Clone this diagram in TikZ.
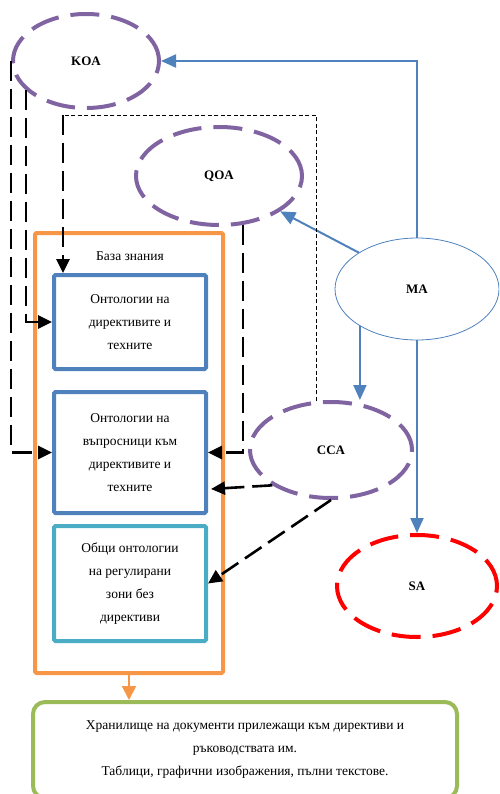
\documentclass[tikz,border=0pt]{standalone}
\usepackage{fontspec}
\setmainfont{Liberation Serif}
\usetikzlibrary{arrows.meta,shapes.geometric}
\definecolor{agentpurple}{HTML}{8064A2}
\definecolor{linkblue}{HTML}{4F81BD}
\definecolor{kborange}{HTML}{F79646}
\definecolor{ontocyan}{HTML}{4BACC6}
\definecolor{storegreen}{HTML}{9BBB59}
\begin{document}
\begin{tikzpicture}[x=1pt, y=-1pt,
    agent/.style={ellipse, draw=agentpurple, line width=4pt, dash pattern=on 29pt off 12pt,
        inner sep=0pt, font=\bfseries\fontsize{13}{15}\selectfont},
    onto/.style={draw=linkblue, line width=4pt, rounded corners=1.5pt, minimum width=152pt,
        align=center, font=\fontsize{13.5}{23}\selectfont},
    kdash/.style={black, line width=2.6pt, dash pattern=on 20pt off 8pt, -{Triangle[length=14pt,width=13pt]}},
    blink/.style={linkblue, line width=2pt, -{Triangle[length=15pt,width=13pt]}}]
    \useasboundingbox (0,0) rectangle (499,794);
    \clip (0,0) rectangle (499,794);
    % агенти
    \node[agent, minimum width=146pt, minimum height=94pt] (koa) at (86,61) {KOA};
    \node[agent, minimum width=166pt, minimum height=98pt] (qoa) at (219,176) {QOA};
    \node[agent, minimum width=162pt, minimum height=96pt] (cca) at (331,450) {CCA};
    \node[agent, draw=red, minimum width=160pt, minimum height=102pt] (sa) at (417,586) {SA};
    \node[ellipse, draw=linkblue, line width=0.8pt, inner sep=0pt, minimum width=164pt, minimum height=102pt,
        font=\bfseries\fontsize{13}{15}\selectfont] (ma) at (417,289) {MA};
    % база знания
    \node[draw=kborange, line width=4pt, rounded corners=1.5pt, minimum width=188pt, minimum height=440pt] (kb) at (129,453) {};
    \node[font=\fontsize{13.5}{15}\selectfont] (kbtitle) at (130,256) {База знания};
    \node[onto, minimum height=94pt] (box1) at (130,322) {Онтологии на\\директивите и\\техните};
    \node[onto, minimum height=121pt] (box2) at (130,452.5) {Онтологии на\\въпросници към\\директивите и\\техните};
    \node[onto, draw=ontocyan, minimum height=115pt] (box3) at (130,583.5) {Общи онтологии\\на регулирани\\зони без\\директиви};
    % хранилище
    \node[draw=storegreen, line width=4pt, rounded corners=12pt, minimum width=424pt, minimum height=96pt,
        align=center, font=\fontsize{13.5}{23}\selectfont] (store) at (245,750)
        {Хранилище на документи прилежащи към директиви и\\ръководствата им.\\Таблици, графични изображения, пълни текстове.};
    \draw[kborange, line width=2pt, -{Triangle[length=14pt,width=14pt]}] (kb.south) -- (kb.south |- store.north);
    % сини връзки
    \draw[blink] (ma.north) |- (koa.east);
    \draw[blink] (ma.148) -- (qoa.330);
    \draw[blink] (ma.213) -- (ma.213 |- cca.north);
    \draw[blink] (ma.south) -- (sa.north);
    % черни пунктири
    \draw[kdash] (koa.west) |- (box2.west);
    \draw[kdash] (koa.206) |- (box1.west);
    \coordinate (bend) at (63,115);
    \draw[black, line width=0.8pt, dash pattern=on 4pt off 2.5pt] (cca.107) |- (bend);
    \draw[kdash] (bend) -- (bend |- box1.north);
    \draw[kdash] (qoa.296) |- (box2.east);
    \coordinate (in2) at (211,489);
    \draw[kdash] (cca.211) -- (in2);
    \draw[kdash] (cca.south) -- (box3.east);
\end{tikzpicture}
\end{document}
